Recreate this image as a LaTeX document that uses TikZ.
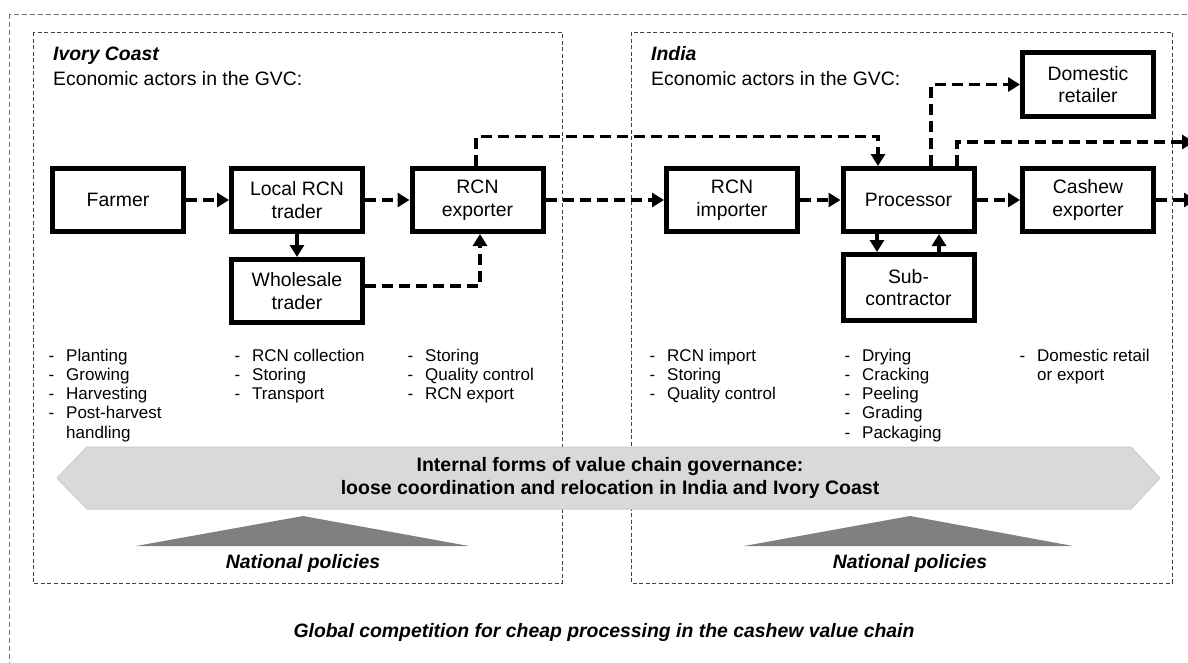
\documentclass[tikz,border=0pt]{standalone}
\usepackage{fontspec}
\setmainfont{Liberation Sans}
\usetikzlibrary{arrows.meta}
\newcommand\taskitem[1]{\makebox[17.5pt][l]{-}#1}
\begin{document}
\begin{tikzpicture}[x=1pt,y=-1pt,
  actor/.style={draw, line width=5pt, minimum width=131pt, minimum height=63pt, inner sep=0pt, align=center, font=\fontsize{19.4}{22.5}\selectfont},
  flow/.style={line width=3.5pt, dash pattern=on 11pt off 6pt, -{Triangle[length=12pt,width=14pt]}},
  solidflow/.style={line width=3.5pt, -{Triangle[length=12pt,width=14pt]}},
  region/.style={draw=black!75, line width=0.9pt, dash pattern=on 4pt off 2.5pt},
  outerbox/.style={draw=black!55, line width=1pt, dash pattern=on 5pt off 3pt},
  titletext/.style={anchor=base west, inner sep=0pt, font=\fontsize{19.4}{22}\selectfont\bfseries\itshape},
  subtitletext/.style={anchor=base west, inner sep=0pt, font=\fontsize{19.4}{22}\selectfont},
  tasks/.style={anchor=north west, inner sep=0pt, align=left, font=\fontsize{17}{19.3}\selectfont},
  policy/.style={anchor=base, inner sep=0pt, font=\fontsize{19.4}{22}\selectfont\bfseries\itshape},
]
\useasboundingbox (0,0) rectangle (1188,662);
\clip (0,0) rectangle (1188,662);
\fill[white] (0,0) rectangle (1188,662);
\draw[outerbox] (9,14) rectangle (1220,700);
\draw[region] (33,32) rectangle (562,583);
\draw[region] (631,32) rectangle (1172,583);

% titles
\node[titletext] (ictitle) at (53,60) {Ivory Coast};
\node[subtitletext] (icsub) at (53,85) {Economic actors in the GVC:};
\node[titletext] (intitle) at (651,60) {India};
\node[subtitletext] (insub) at (651,85) {Economic actors in the GVC:};

% actors
\node[actor] (farmer) at (118,200) {Farmer};
\node[actor] (local) at (297,200) {Local RCN\\trader};
\node[actor] (rcnexp) at (477.5,200) {RCN\\exporter};
\node[actor] (wholesale) at (297,291) {Wholesale\\trader};
\node[actor] (importer) at (732,200) {RCN\\importer};
\node[actor] (processor) at (908.5,200) {Processor};
\node[actor] (cashew) at (1088,200) {Cashew\\exporter};
\node[actor, minimum height=64pt] (domestic) at (1088,84.5) {Domestic\\retailer};
\node[actor, minimum height=66pt] (sub) at (908.5,287.5) {Sub-\\contractor};

\coordinate (offpage1) at (1194,142);
\coordinate (offpage2) at (1196,200);

% connectors
\draw[flow] (farmer) -- (local);
\draw[flow] (local) -- (rcnexp);
\draw[flow] (rcnexp) -- (importer);
\draw[flow] (importer) -- (processor);
\draw[flow] (processor) -- (cashew);
\draw[flow] (cashew) -- (offpage2);
\draw[solidflow] (local) -- (wholesale);
\draw[flow] ([yshift=5pt]wholesale.east) -| ([xshift=2.5pt]rcnexp.south);
\draw[flow] ([xshift=-1.5pt]rcnexp.north) -- ++(0,-29.5) -| ([xshift=-30.5pt]processor.north);
\draw[flow] ([xshift=22.5pt]processor.north) |- (domestic.west);
\draw[flow] ([xshift=48.5pt]processor.north) |- (offpage1);
\draw[solidflow] ([xshift=-31.5pt]processor.south) -- ([xshift=-31.5pt]sub.north);
\draw[solidflow] ([xshift=30.5pt]sub.north) -- ([xshift=30.5pt]processor.south);

% task lists
\node[tasks] (t1) at (48.5,348.5) {\taskitem{Planting}\\\taskitem{Growing}\\\taskitem{Harvesting}\\\taskitem{Post-harvest}\\\hspace*{17.5pt}handling};
\node[tasks] (t2) at (234.5,348.5) {\taskitem{RCN collection}\\\taskitem{Storing}\\\taskitem{Transport}};
\node[tasks] (t3) at (407.5,348.5) {\taskitem{Storing}\\\taskitem{Quality control}\\\taskitem{RCN export}};
\node[tasks] (t4) at (649.5,348.5) {\taskitem{RCN import}\\\taskitem{Storing}\\\taskitem{Quality control}};
\node[tasks] (t5) at (844.5,348.5) {\taskitem{Drying}\\\taskitem{Cracking}\\\taskitem{Peeling}\\\taskitem{Grading}\\\taskitem{Packaging}};
\node[tasks] (t6) at (1019.5,348.5) {\taskitem{Domestic retail}\\\hspace*{17.5pt}or export};

% governance banner
\path[fill=black!15, draw=black!20, line width=1pt] (57,478) -- (87,447) -- (1131,447) -- (1160,478) -- (1131,509) -- (87,509) -- cycle;
\node[align=center, inner sep=0pt, font=\fontsize{19.5}{23}\selectfont\bfseries] (governance) at (610,478) {Internal forms of value chain governance:\\loose coordination and relocation in India and Ivory Coast};

% national policies
\fill[black!50] (136,546) -- (303,516) -- (469,546) -- cycle;
\fill[black!50] (744,546) -- (910,516) -- (1073,546) -- cycle;
\node[policy] (policyIC) at (303,568) {National policies};
\node[policy] (policyIN) at (910,568) {National policies};
\node[policy] (global) at (604,637) {Global competition for cheap processing in the cashew value chain};
\end{tikzpicture}
\end{document}
